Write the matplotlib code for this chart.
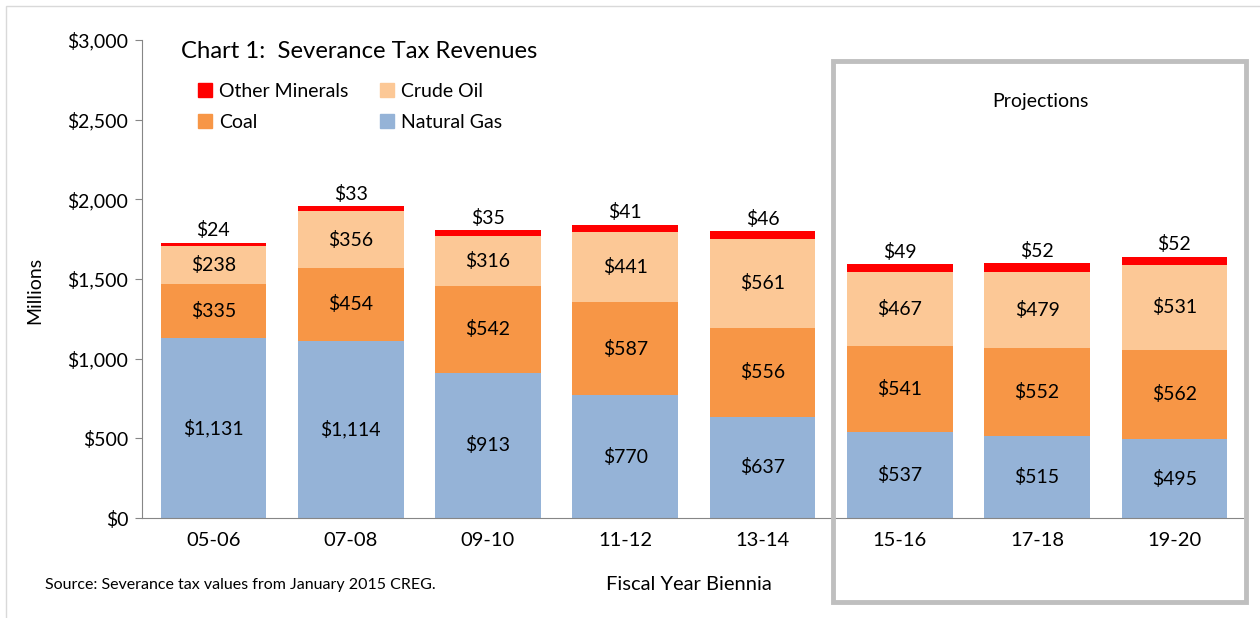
import matplotlib
matplotlib.use('Agg')
import matplotlib.pyplot as plt
from matplotlib.patches import Rectangle, Patch
import numpy as np

plt.rcParams['font.family'] = ['Lato', 'DejaVu Sans']

bienniums = ['05-06', '07-08', '09-10', '11-12', '13-14', '15-16', '17-18', '19-20']
natural_gas = [1131, 1114, 913, 770, 637, 537, 515, 495]
coal = [335, 454, 542, 587, 556, 541, 552, 562]
crude_oil = [238, 356, 316, 441, 561, 467, 479, 531]
other_minerals = [24, 33, 35, 41, 46, 49, 52, 52]

c_gas = '#95B3D7'
c_coal = '#F79646'
c_oil = '#FCC896'
c_other = '#FF0000'

fig = plt.figure(figsize=(12.6, 6.18), dpi=100)
ax = fig.add_axes([142/1260, 1 - 518/618, (1243 - 142)/1260, (518 - 40)/618])

x = np.arange(len(bienniums))
w = 0.77
gas = np.array(natural_gas)
cl = np.array(coal)
oil = np.array(crude_oil)
oth = np.array(other_minerals)

ax.bar(x, gas, w, color=c_gas)
ax.bar(x, cl, w, bottom=gas, color=c_coal)
ax.bar(x, oil, w, bottom=gas + cl, color=c_oil)
ax.bar(x, oth, w, bottom=gas + cl + oil, color=c_other)

lbl = dict(ha='center', va='center', fontsize=14, color='black')
for i in range(len(x)):
    ax.text(x[i], gas[i] / 2, '${:,}'.format(gas[i]), **lbl)
    ax.text(x[i], gas[i] + cl[i] / 2, '${:,}'.format(cl[i]), **lbl)
    ax.text(x[i], gas[i] + cl[i] + oil[i] / 2, '${:,}'.format(oil[i]), **lbl)
    top = gas[i] + cl[i] + oil[i] + oth[i]
    ax.text(x[i], top + 22, '${:,}'.format(oth[i]), ha='center', va='bottom', fontsize=14)

ax.set_xlim(-0.52, 7.5)
ax.set_ylim(0, 3000)
ax.set_yticks(range(0, 3001, 500))
ax.set_yticklabels(['${:,}'.format(v) for v in range(0, 3001, 500)], fontsize=14)
ax.set_xticks(x)
ax.set_xticklabels(bienniums, fontsize=14.5)
ax.tick_params(axis='x', length=0, pad=10)
ax.tick_params(axis='y', length=5, color='#868686', pad=5)
for s in ['top', 'right']:
    ax.spines[s].set_visible(False)
ax.spines['left'].set_color('#868686')
ax.spines['bottom'].set_color('#868686')

fig.text(35/1260, 1 - 290/618, 'Millions', rotation=90, ha='center', va='center', fontsize=14)
fig.text(689/1260, 1 - 585/618, 'Fiscal Year Biennia', ha='center', va='center', fontsize=14.5)
fig.text(45/1260, 1 - 585/618, 'Source: Severance tax values from January 2015 CREG.',
         ha='left', va='center', fontsize=11.5)
fig.text(181/1260, 1 - 52/618, 'Chart 1:  Severance Tax Revenues', ha='left', va='center', fontsize=17.2)
fig.text(1040/1260, 1 - 101/618, 'Projections', ha='center', va='center', fontsize=14)

handles = [Patch(color=c_other, label='Other Minerals'), Patch(color=c_coal, label='Coal'),
           Patch(color=c_oil, label='Crude Oil'), Patch(color=c_gas, label='Natural Gas')]
fig.legend(handles=handles, ncol=2, loc='upper left', bbox_to_anchor=(188/1260, 1 - 73/618),
           frameon=False, fontsize=14, handlelength=0.75, handleheight=0.75, handletextpad=0.35,
           columnspacing=1.6, labelspacing=0.72, borderpad=0)

fig.patches.append(Rectangle((833/1260, 1 - 602/618), (1246 - 833)/1260, (602 - 61)/618,
                             transform=fig.transFigure, fill=False, edgecolor='#BFBFBF', linewidth=3.5))
fig.patches.append(Rectangle((6/1260, -0.02), 1.1, 1 - 6/618 + 0.02,
                             transform=fig.transFigure, fill=False, edgecolor='#D9D9D9', linewidth=1))

fig.savefig('out.png', dpi=100)
